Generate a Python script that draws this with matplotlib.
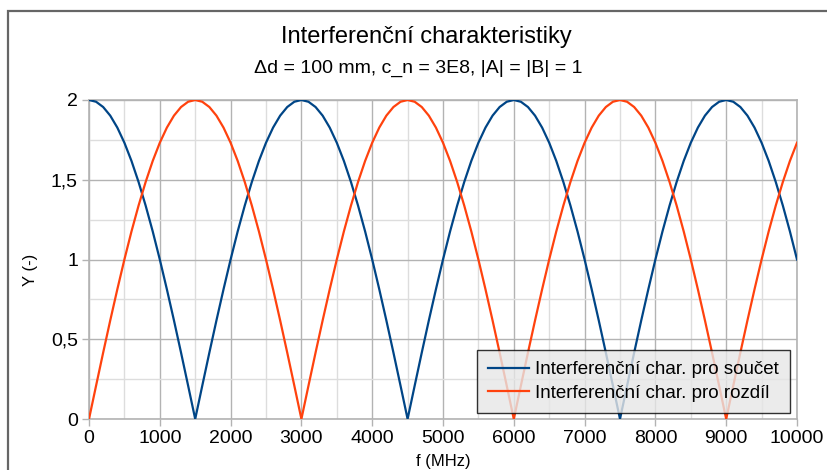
import matplotlib
matplotlib.use("Agg")
import matplotlib.pyplot as plt
from matplotlib.patches import Rectangle
from matplotlib.ticker import MultipleLocator, FuncFormatter

plt.rcParams['font.family'] = ['Liberation Sans', 'DejaVu Sans']

title = "Interferenční charakteristiky"
subtitle = "Δd = 100 mm, c_n = 3E8, |A| = |B| = 1"
x_label = "f (MHz)"
y_label = "Y (-)"
label_soucet = "Interferenční char. pro součet"
label_rozdil = "Interferenční char. pro rozdíl"

freq_mhz = list(range(0, 10001, 100))

y_soucet = [
    2.0, 1.989, 1.956, 1.902, 1.827, 1.732, 1.618, 1.486, 1.338, 1.176,
    1.0, 0.813, 0.618, 0.416, 0.209, 0.0, 0.209, 0.416, 0.618, 0.813,
    1.0, 1.176, 1.338, 1.486, 1.618, 1.732, 1.827, 1.902, 1.956, 1.989,
    2.0, 1.989, 1.956, 1.902, 1.827, 1.732, 1.618, 1.486, 1.338, 1.176,
    1.0, 0.813, 0.618, 0.416, 0.209, 0.0, 0.209, 0.416, 0.618, 0.813,
    1.0, 1.176, 1.338, 1.486, 1.618, 1.732, 1.827, 1.902, 1.956, 1.989,
    2.0, 1.989, 1.956, 1.902, 1.827, 1.732, 1.618, 1.486, 1.338, 1.176,
    1.0, 0.813, 0.618, 0.416, 0.209, 0.0, 0.209, 0.416, 0.618, 0.813,
    1.0, 1.176, 1.338, 1.486, 1.618, 1.732, 1.827, 1.902, 1.956, 1.989,
    2.0, 1.989, 1.956, 1.902, 1.827, 1.732, 1.618, 1.486, 1.338, 1.176,
    1.0,
]

y_rozdil = [
    0.0, 0.209, 0.416, 0.618, 0.813, 1.0, 1.176, 1.338, 1.486, 1.618,
    1.732, 1.827, 1.902, 1.956, 1.989, 2.0, 1.989, 1.956, 1.902, 1.827,
    1.732, 1.618, 1.486, 1.338, 1.176, 1.0, 0.813, 0.618, 0.416, 0.209,
    0.0, 0.209, 0.416, 0.618, 0.813, 1.0, 1.176, 1.338, 1.486, 1.618,
    1.732, 1.827, 1.902, 1.956, 1.989, 2.0, 1.989, 1.956, 1.902, 1.827,
    1.732, 1.618, 1.486, 1.338, 1.176, 1.0, 0.813, 0.618, 0.416, 0.209,
    0.0, 0.209, 0.416, 0.618, 0.813, 1.0, 1.176, 1.338, 1.486, 1.618,
    1.732, 1.827, 1.902, 1.956, 1.989, 2.0, 1.989, 1.956, 1.902, 1.827,
    1.732, 1.618, 1.486, 1.338, 1.176, 1.0, 0.813, 0.618, 0.416, 0.209,
    0.0, 0.209, 0.416, 0.618, 0.813, 1.0, 1.176, 1.338, 1.486, 1.618,
    1.732,
]

W, H = 827, 470
fig = plt.figure(figsize=(W / 100, H / 100), dpi=100)
fig.patch.set_facecolor('white')

# outer chart frame (partially cropped)
fig.add_artist(Rectangle((8 / W, -0.2), 1.2, 1 - 11 / H + 0.2, transform=fig.transFigure,
                         fill=False, edgecolor='#666666', linewidth=1.6, clip_on=False))

ax = fig.add_axes([89 / W, 1 - 419 / H, (797 - 89) / W, (419 - 100) / H])

ax.plot(freq_mhz, y_soucet, color='#004586', linewidth=1.6, label=label_soucet, zorder=3)
ax.plot(freq_mhz, y_rozdil, color='#ff420e', linewidth=1.6, label=label_rozdil, zorder=3)

ax.set_xlim(0, 10000)
ax.set_ylim(0, 2)
ax.xaxis.set_major_locator(MultipleLocator(1000))
ax.xaxis.set_minor_locator(MultipleLocator(500))
ax.yaxis.set_major_locator(MultipleLocator(0.5))
ax.yaxis.set_minor_locator(MultipleLocator(0.25))
ax.yaxis.set_major_formatter(FuncFormatter(lambda v, p: ('%g' % v).replace('.', ',')))

ax.grid(which='major', color='#b3b3b3', linewidth=1.0, zorder=0)
ax.grid(which='minor', color='#dddddd', linewidth=1.0, zorder=0)
ax.set_axisbelow(True)
for s in ax.spines.values():
    s.set_color('#b3b3b3')
    s.set_linewidth(1.2)
ax.tick_params(which='major', direction='out', length=5, color='#b3b3b3', width=1,
               labelsize=14, pad=3)
ax.tick_params(which='minor', length=0)

fig.text(426 / W, 1 - 37 / H, title, ha='center', va='center', fontsize=17)
fig.text(418 / W, 1 - 68 / H, subtitle, ha='center', va='center', fontsize=14)
fig.text(31 / W, 1 - 270 / H, y_label, ha='center', va='center', rotation=90, fontsize=12)
fig.text(443 / W, 1 - 469 / H, x_label, ha='center', va='bottom', fontsize=12)

leg = ax.legend(loc='lower right', bbox_to_anchor=(790 / W, 1 - 413 / H),
                bbox_transform=fig.transFigure, fontsize=13.5, frameon=True,
                fancybox=False, framealpha=0.8, edgecolor='black', facecolor='#e6e6e6',
                handlelength=2.2, handletextpad=0.32, borderpad=0.6, labelspacing=0.35,
                borderaxespad=0)
leg.get_frame().set_linewidth(1.0)

fig.savefig('out.png', dpi=100, facecolor='white')
